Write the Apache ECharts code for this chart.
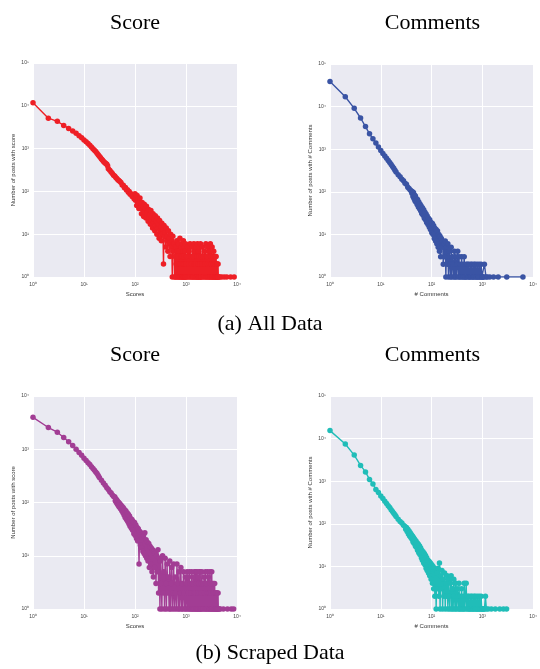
<!DOCTYPE html>
<html><head><meta charset="utf-8">
<script src="https://cdn.jsdelivr.net/npm/echarts@6/dist/echarts.min.js"></script>
<style>html,body{margin:0;padding:0;background:#fff}#c{width:540px;height:669px}</style>
</head><body><div id="c"></div>
<script>
// ---- data: [value, number of posts] ----
const scoreAll = [[1,11800],[2,5150],[3,4340],[4,3480],[5,2960],[6,2570],[7,2270],[8,1990],[9,1800],[10,1590],[11,1440],[12,1310],[13,1200],[14,1090],[15,990],[16,920],[17,850],[18,780],[19,720],[20,660],[21,620],[22,575],[23,540],[24,505],[25,480],[26,460],[27,445],[28,430],[29,400],[30,340],
[32,310],[34,285],[36,262],[38,240],[40,228],[42,212],[44,200],[46,188],[48,180],[50,172],[53,162],[56,141],[59,140],[62,122],[65,124],[68,108],[71,110],[74,96],[77,99],[80,86],[84,88],[88,76],[92,79],[96,67],
[100,88],[102,62],[105,72],[108,47],[110,80],[113,55],[116,64],[119,40],[122,57],[125,70],[128,41],[131,52],[134,30],[138,55],[141,39],[145,44],[148,26],[152,50],[156,33],[160,40],[164,24],[168,45],[172,28],[176,34],[181,20],[185,38],[190,25],[195,29],[200,17],[205,36],[210,21],[215,26],[221,14],[226,30],[232,19],[238,23],[244,12],[250,27],[256,16],[262,20],[269,10],[276,24],[283,14],[290,17],[297,8],[304,21],[312,12],[320,15],[328,7],[336,18],[344,10],[353,13],[362,2],[371,16],[380,9],[390,11],[400,5],[410,14],[420,7],[430,9],[441,4],[452,12],[463,6],[475,8],[487,3],[500,10],[512,5],[525,7],[538,1],[552,9],[566,4],[580,6],[595,1],
[610,3],[620,1],[630,5],[640,2],[650,1],[660,7],[670,2],[680,4],[690,1],[700,3],[710,6],[720,1],[730,2],[740,4],[750,1],[760,8],[770,2],[780,1],[790,3],[800,5],[810,1],[820,2],[830,6],[840,1],[850,3],[860,1],[870,4],[880,2],[890,7],[900,1],[910,3],[920,1],[930,5],[940,2],[950,1],[960,4],[970,1],[980,6],[990,2],[1000,1],
[1025,3],[1050,1],[1075,5],[1100,1],[1125,2],[1150,4],[1175,1],[1200,6],[1225,1],[1250,3],[1275,2],[1300,1],[1325,5],[1350,1],[1375,3],[1400,1],[1425,6],[1450,2],[1475,1],[1500,4],[1525,1],[1550,2],[1575,5],[1600,1],[1625,3],[1650,1],[1675,6],[1700,1],[1725,2],[1750,4],[1775,1],[1800,3],[1825,1],[1850,5],[1875,2],[1900,1],[1925,6],[1950,1],[1975,3],[2000,1],
[2050,2],[2100,5],[2150,1],[2200,3],[2250,1],[2300,4],[2350,2],[2400,1],[2450,6],[2500,1],[2550,3],[2600,1],[2650,2],[2700,5],[2750,1],[2800,4],[2850,1],[2900,2],[2950,1],[3000,6],[3050,3],[3100,1],[3150,2],[3200,1],[3250,5],[3300,1],[3350,3],[3400,1],[3450,2],[3500,4],[3550,1],[3600,2],[3650,1],[3700,3],[3750,1],[3800,2],[3850,1],[3900,3],[3950,1],[4000,2],[4050,1],[4100,2],[4150,1],[4200,1],[4250,2],[4300,1],
[4400,1],[4600,1],[5000,1],[5600,1],[6300,1],[7500,1],[8800,1]];

const commentsAll = [[1,38700],[2,17000],[3,9100],[4,5400],[5,3400],[6,2300],[7,1750],[8,1400],[9,1130],[10,930],[11,790],[12,690],[13,610],[14,540],[15,490],[16,440],[17,395],[18,355],[19,320],[20,290],
[22,250],[24,226],[26,198],[28,182],[30,158],[32,150],[34,128],[36,120],[38,110],
[40,104],[41,92],[42,100],[43,78],[44,96],[45,70],[46,84],[47,62],[48,80],[49,58],[50,70],[52,50],[53,66],[55,44],[56,58],[58,40],[59,52],[61,36],[62,47],[64,31],[66,42],[68,28],[70,38],[72,24],[74,33],[76,22],[78,30],[80,19],[82,27],[85,17],[87,24],[90,15],[92,22],[95,13],[98,19],[101,11],[104,18],[107,10],[110,16],[113,8],[116,14],[120,7],[123,13],[127,6],[131,12],[135,5],[139,10],[143,4],[147,9],[151,3],[156,8],[160,5],[165,7],[170,2],[175,6],[180,3],[186,7],[191,1],[197,5],[203,2],[209,6],
[215,1],[222,4],[229,2],[236,1],[243,5],[250,1],[258,3],[266,2],[274,1],[282,4],[290,1],[299,3],[308,1],[317,2],[327,4],[337,1],[347,3],[357,1],[368,2],[379,1],[390,3],[402,1],[414,2],[426,1],[439,3],[452,1],[466,1],[480,2],[494,1],[509,2],[524,1],[540,2],[556,1],[573,1],[590,2],[608,1],[626,2],[645,1],[664,1],[684,2],[705,1],[726,2],[748,1],[770,1],[793,2],[817,1],[841,1],[866,2],[892,1],[919,1],[946,2],[975,1],[1004,1],[1034,1],[1065,1],[1097,2],
[1180,1],[1250,1],[1400,1],[1660,1],[2050,1],[3020,1],[6300,1]];

const scoreScraped = [[1,3970],[2,2560],[3,2090],[4,1660],[5,1380],[6,1170],[7,1000],[8,870],[9,770],[10,680],[11,615],[12,560],[13,515],[14,470],[15,435],[16,405],[17,375],[18,350],[19,320],[20,295],[22,262],[24,232],[26,210],[28,190],[30,176],[32,160],[34,150],[36,138],[38,130],
[40,128],[41,108],[42,118],[43,100],[44,112],[45,94],[46,104],[47,88],[48,100],[49,82],[50,96],[52,76],[53,90],[55,70],[56,84],[58,64],[59,80],[61,58],[62,74],[64,52],[66,70],[68,48],[70,64],[72,44],[74,60],[76,40],[78,56],[80,36],[82,50],[85,33],[87,48],[90,30],[92,44],[95,26],[98,42],[101,24],[104,38],[107,21],[110,34],[113,19],[116,32],[120,7],[123,29],[127,16],[131,27],[135,14],[139,25],[143,12],[147,24],[151,11],[156,27],[160,10],[165,20],[170,9],[175,18],[180,8],[186,17],[191,6],[197,15],[203,7],[209,14],[215,5],[222,13],[229,4],[236,12],[243,6],[250,11],[258,3],[266,10],[274,5],[282,13],[290,2],[299,9],
[308,1],[317,8],[327,3],[337,1],[347,10],[357,2],[368,5],[379,1],[390,9],[402,3],[414,1],[426,7],[439,2],[452,4],[466,1],[480,8],[494,1],[509,3],[524,6],[540,1],[556,2],[573,7],[590,1],[608,4],[626,2],[645,1],[664,7],[684,3],[705,1],[726,5],[748,1],[770,2],[793,6],[817,1],[841,3],[866,1],[892,5],[919,2],[946,1],[975,4],
[1000,1],[1025,3],[1050,5],[1075,1],[1100,2],[1125,4],[1150,1],[1175,5],[1200,1],[1225,3],[1250,2],[1275,1],[1300,5],[1325,1],[1350,3],[1375,1],[1400,4],[1425,2],[1450,1],[1475,5],[1500,1],[1525,2],[1550,5],[1575,1],[1600,3],[1625,1],[1650,5],[1675,1],[1700,2],[1725,4],[1750,1],[1775,3],[1800,1],[1825,5],[1850,2],[1875,1],[1900,5],[1925,1],[1950,3],[1975,1],
[2000,2],[2050,5],[2100,1],[2150,3],[2200,1],[2250,4],[2300,2],[2350,1],[2400,5],[2450,1],[2500,3],[2550,1],[2600,2],[2650,5],[2700,1],[2750,4],[2800,1],[2850,2],[2900,1],[2950,5],[3000,3],[3050,1],[3100,2],[3150,1],[3200,5],[3250,1],[3300,3],[3350,1],[3400,2],[3450,3],[3500,1],[3550,2],[3600,1],[3650,3],[3700,1],[3750,2],[3800,1],[3850,2],[3900,1],[3950,2],[4000,1],[4050,1],[4100,2],[4150,1],[4200,1],[4250,2],[4300,1],
[4500,1],[4700,1],[5400,1],[6500,1],[7700,1],[8600,1]];

const commentsScraped = [[1,15400],[2,7450],[3,4100],[4,2350],[5,1650],[6,1100],[7,860],[8,640],[9,540],[10,450],[11,390],[12,340],[13,300],[14,265],[15,240],[16,215],[17,195],[18,178],[19,162],[20,148],[22,128],[24,114],[26,105],[28,92],
[30,86],[31,74],[32,82],[33,66],[34,74],[35,58],[36,68],[37,52],[38,62],[39,48],[40,56],[41,44],[42,52],[43,38],[44,48],[45,35],[46,44],[48,30],[49,40],[50,28],[52,36],[53,24],[55,33],[56,21],[58,30],[59,19],[61,27],[63,16],[64,24],[66,14],[68,22],[70,12],[72,20],[74,11],[76,18],[78,9],[80,16],[82,8],[85,14],[87,7],[90,13],[92,6],[95,12],[98,5],[101,11],[104,4],[107,10],[110,3],[113,9],[116,2],[120,8],[123,1],[127,7],[131,3],[135,9],[139,2],[143,12],[147,1],[151,6],[156,3],[160,8],[165,1],[170,5],[175,2],[180,7],[186,1],[191,4],[197,2],[203,6],[209,1],[215,5],[222,2],[229,1],[236,4],[243,6],[250,1],[258,3],[266,1],[274,5],[282,2],[290,1],[299,4],
[308,1],[317,3],[327,2],[337,1],[347,4],[357,1],[368,2],[379,1],[390,3],[402,1],[414,2],[426,1],[439,4],[452,1],[466,2],[480,4],[494,1],[509,2],[524,1],[540,2],[556,1],[573,1],[590,2],[608,1],[626,2],[645,1],[664,1],[684,2],[705,1],[726,2],[748,1],[770,1],[793,2],[817,1],[841,1],[866,2],[892,1],[919,1],[946,2],[975,1],[1004,1],[1034,1],[1065,1],[1097,1],[1150,2],
[1200,1],[1300,1],[1500,1],[1800,1],[2200,1],[2600,1],[3000,1]];

const panelTitles = ['Score', 'Comments', 'Score', 'Comments'];
const xNames = ['Scores', '# Comments', 'Scores', '# Comments'];
const yNames = ['Number of posts with score', 'Number of posts with # Comments', 'Number of posts with score', 'Number of posts with # Comments'];
const yMax = [1e5, 1e5, 1e4, 1e5];
const xMax = [1e4, 1e4, 1e4, 1e4];
const captions = ['(a) All Data', '(b) Scraped Data'];
const seriesData = [scoreAll, commentsAll, scoreScraped, commentsScraped];

// ---- layout / style ----
const colors = ['#ee1f26', '#3a54a4', '#a23d94', '#20bdb8'];
const grids = [
  {left: 33, top: 63, width: 204, height: 214},
  {left: 330, top: 64, width: 205, height: 213},
  {left: 33, top: 396, width: 204, height: 213},
  {left: 330, top: 396, width: 205, height: 213}
];
const sup = {'0':'\u2070','1':'\u00b9','2':'\u00b2','3':'\u00b3','4':'\u2074','5':'\u2075','6':'\u2076','7':'\u2077','8':'\u2078','9':'\u2079','-':'\u207b'};
function fmt(v){ const e = Math.round(Math.log10(v)); return '10' + String(e).split('').map(d => sup[d]).join(''); }

const axisCommon = {
  type: 'log', logBase: 10, min: 1,
  axisLine: {show: false}, axisTick: {show: false},
  splitLine: {show: true, lineStyle: {color: '#ffffff', width: 1}},
  minorTick: {show: false}, minorSplitLine: {show: false},
  axisLabel: {formatter: fmt, fontSize: 5, color: '#444', fontFamily: 'Liberation Sans', showMinLabel: true, showMaxLabel: true},
  nameLocation: 'middle',
  nameTextStyle: {fontSize: 6, color: '#333', fontFamily: 'Liberation Sans'}
};

const option = {
  animation: false,
  backgroundColor: '#ffffff',
  grid: grids.map(g => Object.assign({show: true, backgroundColor: '#eaeaf2', borderWidth: 0}, g)),
  xAxis: grids.map((g, i) => Object.assign({}, axisCommon, {
    gridIndex: i, max: xMax[i], name: xNames[i], nameGap: 14,
    axisLabel: Object.assign({}, axisCommon.axisLabel, {margin: 5})
  })),
  yAxis: grids.map((g, i) => Object.assign({}, axisCommon, {
    gridIndex: i, max: yMax[i], name: yNames[i], nameGap: 17,
    axisLabel: Object.assign({}, axisCommon.axisLabel, {margin: 4})
  })),
  series: seriesData.map((d, i) => ({
    type: 'line', xAxisIndex: i, yAxisIndex: i, data: d,
    symbol: 'circle', symbolSize: 5.5, showAllSymbol: true, clip: true,
    lineStyle: {color: colors[i], width: 1.4},
    itemStyle: {color: colors[i], borderWidth: 0}
  })),
  graphic: [
    ...grids.map((g, i) => ({
      type: 'text', x: g.left + g.width / 2, y: i < 2 ? 23 : 355,
      style: {text: panelTitles[i], font: '22px "Liberation Serif"', fill: '#000', align: 'center', verticalAlign: 'middle'}
    })),
    {type: 'text', x: 270, y: 324, style: {text: captions[0], font: '22px "Liberation Serif"', fill: '#000', align: 'center', verticalAlign: 'middle'}},
    {type: 'text', x: 270, y: 653, style: {text: captions[1], font: '22px "Liberation Serif"', fill: '#000', align: 'center', verticalAlign: 'middle'}}
  ]
};
const chart = echarts.init(document.getElementById('c'), null, {renderer: 'canvas'});
chart.setOption(option);
</script></body></html>
